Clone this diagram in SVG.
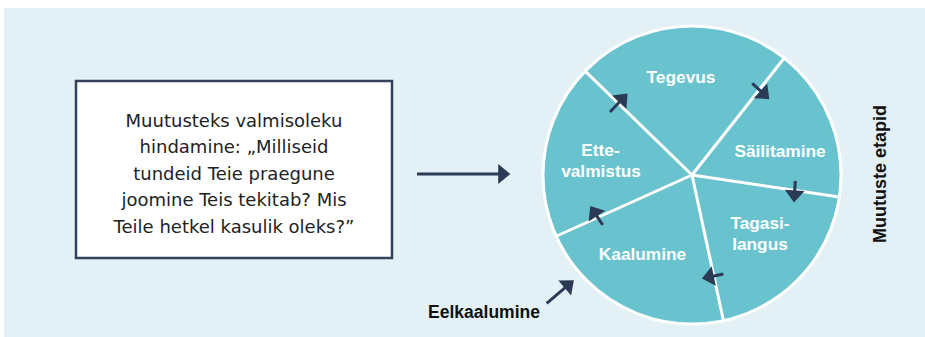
<svg xmlns="http://www.w3.org/2000/svg" width="925" height="337" viewBox="0 0 925 337">
<style>
.lbl{font-family:"Liberation Sans",Arial,sans-serif;font-weight:bold;font-size:17.3px;fill:#ffffff;text-anchor:middle}
.box{font-family:"DejaVu Sans",sans-serif;font-size:18px;fill:#222222;text-anchor:middle}
.side{font-family:"Liberation Sans",Arial,sans-serif;font-weight:bold;font-size:17.5px;fill:#111111;text-anchor:middle}
.div{stroke:#ffffff;stroke-width:3;fill:none}
.arr{stroke:#2b3b56;stroke-width:3;fill:none;marker-end:url(#ah)}
</style>
<defs>
<marker id="ah" markerUnits="userSpaceOnUse" markerWidth="14" markerHeight="22" viewBox="0 -10 12 20" refX="3" refY="0" orient="auto">
<path d="M0,-9 L11,0 L0,9 Z" fill="#2b3b56"/>
</marker>
</defs>
<rect x="4" y="8" width="921" height="329" fill="#e3f1f6"/>
<g id="box">
<rect x="76" y="81" width="316" height="177" fill="#ffffff" stroke="#33415c" stroke-width="2.5"/>
<text class="box" x="234" y="126.5">Muutusteks valmisoleku</text>
<text class="box" x="234" y="153">hindamine: „Milliseid</text>
<text class="box" x="234" y="179.5">tundeid Teie praegune</text>
<text class="box" x="234" y="206">joomine Teis tekitab? Mis</text>
<text class="box" x="234" y="232.5">Teile hetkel kasulik oleks?”</text>
</g>
<g id="cycle">
<circle cx="692" cy="175" r="149" fill="#69c3ce" stroke="#ffffff" stroke-width="3"/>
<path class="div" d="M692,175 L585.7,71.7 M692,175 L783.3,59.3 M692,175 L837.7,196.7 M692,175 L723.3,320 M692,175 L556.7,236"/>
</g>
<g id="tegevus"><text class="lbl" x="681" y="82.5">Tegevus</text></g>
<g id="sailitamine"><text class="lbl" x="780" y="156.5">Säilitamine</text></g>
<g id="tagasilangus"><text class="lbl" x="760" y="229">Tagasi-</text><text class="lbl" x="760" y="250">langus</text></g>
<g id="kaalumine"><text class="lbl" x="642.5" y="259.5">Kaalumine</text></g>
<g id="ettevalmistus"><text class="lbl" x="600.5" y="156">Ette-</text><text class="lbl" x="601" y="176.5">valmistus</text></g>
<g id="eelkaalumine"><text class="side" x="484" y="318.3">Eelkaalumine</text></g>
<g id="etapid"><text class="side" style="font-size:18px" transform="translate(886,174) rotate(-90)">Muutuste etapid</text></g>
<g id="connectors">
<line class="arr" x1="417" y1="174" x2="501.5" y2="174"/>
<line class="arr" x1="610" y1="112" x2="621.5" y2="99.8"/>
<line class="arr" x1="752.3" y1="83.3" x2="762.9" y2="93.2"/>
<line class="arr" x1="795.3" y1="181" x2="794.5" y2="193.7"/>
<line class="arr" x1="723.3" y1="274" x2="710.5" y2="276.7"/>
<line class="arr" x1="602.7" y1="225" x2="595.1" y2="213.4"/>
<line class="arr" x1="546.7" y1="303.3" x2="567.2" y2="285.9"/>
</g>
</svg>
